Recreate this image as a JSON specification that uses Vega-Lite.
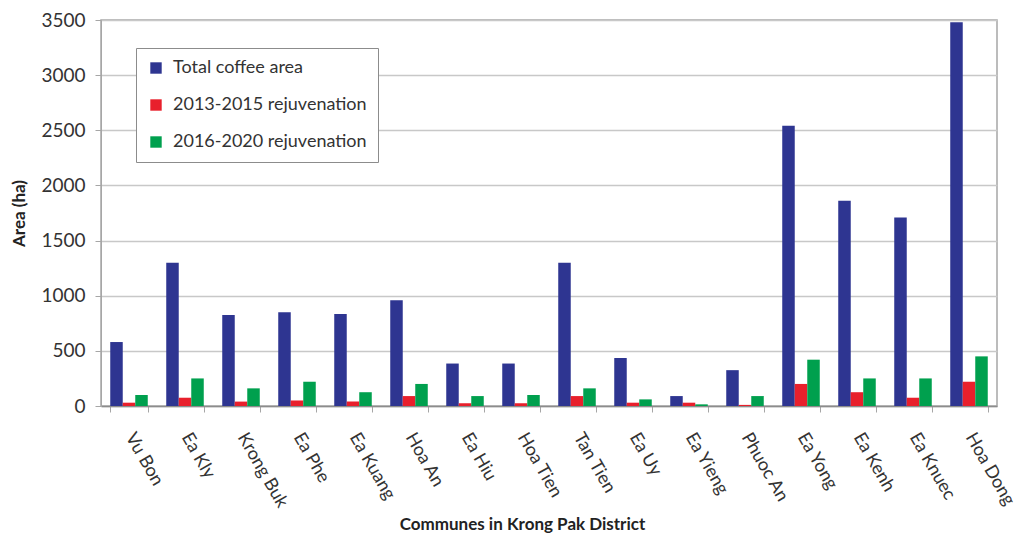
{
  "$schema": "https://vega.github.io/schema/vega-lite/v6.json",
  "width": 896,
  "height": 386,
  "autosize": {"type": "none"},
  "padding": {"left": 101, "top": 20, "right": 23, "bottom": 129},
  "background": "white",
  "data": {
    "values": [
      {"commune": "Vu Bon", "series": "Total coffee area", "area": 580},
      {"commune": "Vu Bon", "series": "2013-2015 rejuvenation", "area": 30},
      {"commune": "Vu Bon", "series": "2016-2020 rejuvenation", "area": 100},
      {"commune": "Ea Kly", "series": "Total coffee area", "area": 1300},
      {"commune": "Ea Kly", "series": "2013-2015 rejuvenation", "area": 75},
      {"commune": "Ea Kly", "series": "2016-2020 rejuvenation", "area": 250},
      {"commune": "Krong Buk", "series": "Total coffee area", "area": 825},
      {"commune": "Krong Buk", "series": "2013-2015 rejuvenation", "area": 40},
      {"commune": "Krong Buk", "series": "2016-2020 rejuvenation", "area": 160},
      {"commune": "Ea Phe", "series": "Total coffee area", "area": 850},
      {"commune": "Ea Phe", "series": "2013-2015 rejuvenation", "area": 50},
      {"commune": "Ea Phe", "series": "2016-2020 rejuvenation", "area": 220},
      {"commune": "Ea Kuang", "series": "Total coffee area", "area": 835},
      {"commune": "Ea Kuang", "series": "2013-2015 rejuvenation", "area": 40},
      {"commune": "Ea Kuang", "series": "2016-2020 rejuvenation", "area": 125},
      {"commune": "Hoa An", "series": "Total coffee area", "area": 960},
      {"commune": "Hoa An", "series": "2013-2015 rejuvenation", "area": 90},
      {"commune": "Hoa An", "series": "2016-2020 rejuvenation", "area": 200},
      {"commune": "Ea Hiu", "series": "Total coffee area", "area": 385},
      {"commune": "Ea Hiu", "series": "2013-2015 rejuvenation", "area": 25},
      {"commune": "Ea Hiu", "series": "2016-2020 rejuvenation", "area": 90},
      {"commune": "Hoa Tien", "series": "Total coffee area", "area": 385},
      {"commune": "Hoa Tien", "series": "2013-2015 rejuvenation", "area": 25},
      {"commune": "Hoa Tien", "series": "2016-2020 rejuvenation", "area": 100},
      {"commune": "Tan Tien", "series": "Total coffee area", "area": 1300},
      {"commune": "Tan Tien", "series": "2013-2015 rejuvenation", "area": 90},
      {"commune": "Tan Tien", "series": "2016-2020 rejuvenation", "area": 160},
      {"commune": "Ea Uy", "series": "Total coffee area", "area": 435},
      {"commune": "Ea Uy", "series": "2013-2015 rejuvenation", "area": 30},
      {"commune": "Ea Uy", "series": "2016-2020 rejuvenation", "area": 60},
      {"commune": "Ea Yieng", "series": "Total coffee area", "area": 90},
      {"commune": "Ea Yieng", "series": "2013-2015 rejuvenation", "area": 30},
      {"commune": "Ea Yieng", "series": "2016-2020 rejuvenation", "area": 15},
      {"commune": "Phuoc An", "series": "Total coffee area", "area": 325},
      {"commune": "Phuoc An", "series": "2013-2015 rejuvenation", "area": 10},
      {"commune": "Phuoc An", "series": "2016-2020 rejuvenation", "area": 90},
      {"commune": "Ea Yong", "series": "Total coffee area", "area": 2540},
      {"commune": "Ea Yong", "series": "2013-2015 rejuvenation", "area": 200},
      {"commune": "Ea Yong", "series": "2016-2020 rejuvenation", "area": 420},
      {"commune": "Ea Kenh", "series": "Total coffee area", "area": 1860},
      {"commune": "Ea Kenh", "series": "2013-2015 rejuvenation", "area": 125},
      {"commune": "Ea Kenh", "series": "2016-2020 rejuvenation", "area": 250},
      {"commune": "Ea Knuec", "series": "Total coffee area", "area": 1710},
      {"commune": "Ea Knuec", "series": "2013-2015 rejuvenation", "area": 75},
      {"commune": "Ea Knuec", "series": "2016-2020 rejuvenation", "area": 250},
      {"commune": "Hoa Dong", "series": "Total coffee area", "area": 3480},
      {"commune": "Hoa Dong", "series": "2013-2015 rejuvenation", "area": 220},
      {"commune": "Hoa Dong", "series": "2016-2020 rejuvenation", "area": 450}
    ]
  },
  "mark": {"type": "bar"},
  "encoding": {
    "x": {
      "field": "commune",
      "type": "nominal",
      "sort": null,
      "scale": {"paddingInner": 0.33, "paddingOuter": 0.165},
      "axis": {
        "title": "Communes in Krong Pak District",
        "titleFont": "Lato",
        "titleFontSize": 17,
        "titleFontWeight": "bold",
        "titleColor": "#222222",
        "titleX": 421,
        "titleY": 123,
        "titleBaseline": "alphabetic",
        "labelAngle": 60,
        "labelAlign": "left",
        "labelBaseline": "middle",
        "labelPadding": 22,
        "labelFont": "Lato",
        "labelFontSize": 18,
        "labelColor": "#333333",
        "tickBand": "extent",
        "tickSize": 6,
        "tickColor": "#A6A6A6",
        "domainColor": "#8C8C8C",
        "domainWidth": 1.5,
        "grid": false
      }
    },
    "xOffset": {
      "field": "series",
      "type": "nominal",
      "sort": ["Total coffee area", "2013-2015 rejuvenation", "2016-2020 rejuvenation"],
      "scale": {"paddingInner": 0, "paddingOuter": 0}
    },
    "y": {
      "field": "area",
      "type": "quantitative",
      "scale": {"domain": [0, 3500], "nice": false},
      "axis": {
        "title": "Area (ha)",
        "titleFont": "Lato",
        "titleFontSize": 17,
        "titleFontWeight": "bold",
        "titleColor": "#222222",
        "titlePadding": 12,
        "format": "d",
        "values": [0, 500, 1000, 1500, 2000, 2500, 3000, 3500],
        "labelFont": "Lato",
        "labelFontSize": 19,
        "labelColor": "#333333",
        "labelPadding": 10,
        "tickSize": 6,
        "tickColor": "#A6A6A6",
        "domainColor": "#A6A6A6",
        "gridColor": "#C8C8C8",
        "gridWidth": 1.5
      }
    },
    "color": {
      "field": "series",
      "type": "nominal",
      "sort": ["Total coffee area", "2013-2015 rejuvenation", "2016-2020 rejuvenation"],
      "scale": {
        "domain": ["Total coffee area", "2013-2015 rejuvenation", "2016-2020 rejuvenation"],
        "range": ["#2E3591", "#E8202C", "#00A04E"]
      },
      "legend": {
        "title": null,
        "orient": "none",
        "legendX": 35,
        "legendY": 28,
        "symbolType": "square",
        "symbolSize": 130,
        "symbolStrokeWidth": 0,
        "labelFont": "Lato",
        "labelFontSize": 18,
        "labelLimit": 0,
        "labelColor": "#333333",
        "labelOffset": 8,
        "rowPadding": 19,
        "padding": 11,
        "strokeColor": "#8C8C8C",
        "fillColor": "white"
      }
    }
  },
  "config": {
    "view": {"stroke": "#A6A6A6", "strokeWidth": 1.5},
    "axis": {"gridColor": "#C8C8C8"}
  }
}
